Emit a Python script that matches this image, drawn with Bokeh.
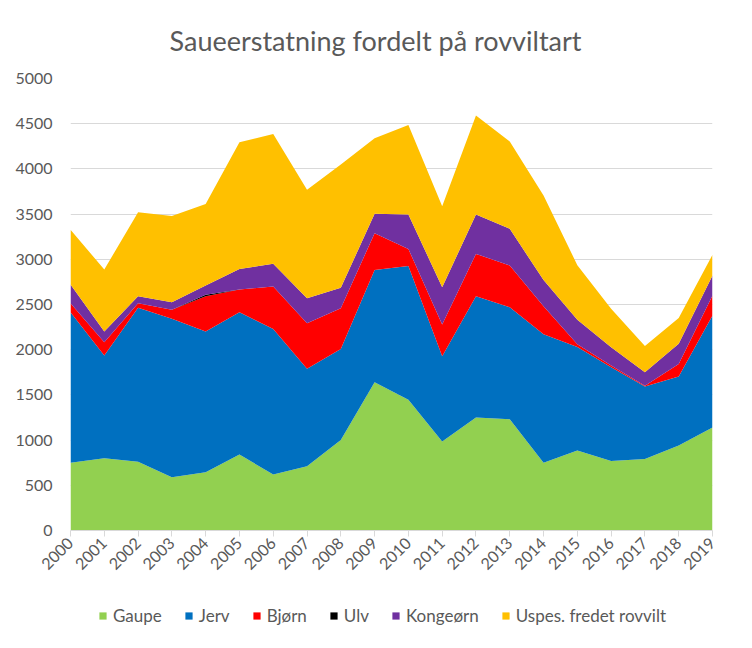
from math import pi
from bokeh.plotting import figure
from bokeh.layouts import column
from bokeh.models import ColumnDataSource, Legend, LegendItem, FixedTicker, Range1d
from bokeh.embed import file_html
from bokeh.resources import INLINE

years = list(range(2000, 2020))
gaupe = [750, 800, 760, 590, 645, 840, 620, 710, 1000, 1640, 1445, 985, 1250, 1230, 750, 885, 770, 790, 940, 1140]
jerv = [1665, 1136, 1703, 1751, 1556, 1575, 1610, 1078, 1009, 1243, 1482, 943, 1342, 1240, 1420, 1145, 1036, 803, 763, 1238]
bjorn = [99, 147, 51, 100, 391, 250, 469, 505, 450, 406, 188, 350, 468, 461, 310, 30, 19, 7, 140, 221]
ulv = [0, 0, 0, 0, 15, 0, 0, 0, 0, 0, 0, 0, 0, 0, 0, 0, 0, 0, 0, 0]
kongeorn = [207, 118, 78, 84, 103, 229, 251, 277, 225, 214, 380, 413, 435, 406, 290, 270, 203, 151, 222, 221]
uspes = [605, 686, 929, 955, 903, 1401, 1437, 1200, 1366, 836, 992, 896, 1095, 965, 935, 605, 424, 289, 285, 230]

series_keys = ["gaupe", "jerv", "bjorn", "ulv", "kongeorn", "uspes"]
series_labels = ["Gaupe", "Jerv", "Bjørn", "Ulv", "Kongeørn", "Uspes. fredet rovvilt"]
colors = ["#92D050", "#0070C0", "#FF0000", "#000000", "#7030A0", "#FFC000"]
y_ticks = list(range(0, 5001, 500))

source = ColumnDataSource(dict(year=years, gaupe=gaupe, jerv=jerv, bjorn=bjorn,
                               ulv=ulv, kongeorn=kongeorn, uspes=uspes))

FONT = "Lato"
TXT = "#595959"

p = figure(frame_width=642, frame_height=452, output_backend="svg", toolbar_location=None,
           x_range=Range1d(2000, 2019), y_range=Range1d(0, 5000),
           min_border_left=70, min_border_right=40, min_border_top=78, min_border_bottom=70)

rs = p.varea_stack(series_keys, x="year", color=colors, source=source)

p.title.text = "Saueerstatning fordelt på rovviltart"
p.title.align = "left"
p.title.offset = 99
p.title.text_font = FONT
p.title.text_font_size = "27px"
p.title.text_font_style = "normal"
p.title.text_color = TXT
p.title.standoff = 43

p.outline_line_color = None
p.background_fill_color = "white"
p.border_fill_color = "white"

p.xgrid.grid_line_color = None
p.ygrid.grid_line_color = "#D9D9D9"
p.ygrid.ticker = FixedTicker(ticks=y_ticks)

p.yaxis.ticker = FixedTicker(ticks=y_ticks)
p.yaxis.axis_line_color = None
p.yaxis.major_tick_line_color = None
p.yaxis.minor_tick_line_color = None
p.yaxis.major_label_text_font = FONT
p.yaxis.major_label_text_font_size = "16px"
p.yaxis.major_label_text_color = TXT
p.yaxis.major_label_standoff = 12

p.xaxis.ticker = FixedTicker(ticks=years)
p.xaxis.axis_line_color = "#D9D9D9"
p.xaxis.major_tick_line_color = "#D9D9D9"
p.xaxis.major_tick_in = 0
p.xaxis.major_tick_out = 6
p.xaxis.minor_tick_line_color = None
p.xaxis.major_label_orientation = pi / 4
p.xaxis.major_label_text_font = FONT
p.xaxis.major_label_text_font_size = "16px"
p.xaxis.major_label_text_color = TXT
p.xaxis.major_label_standoff = 4

# legend strip below the chart (its frame is aligned with the chart frame)
lg = figure(width=752, height=48, output_backend="svg", toolbar_location=None, title=None,
            x_axis_type=None, y_axis_type=None, x_range=Range1d(2000, 2019), y_range=Range1d(0, 1),
            min_border_left=0, min_border_right=0, min_border_top=0, min_border_bottom=0)
lg.outline_line_color = None
lg.xgrid.grid_line_color = None
lg.ygrid.grid_line_color = None
lrs = lg.varea_stack(series_keys, x="year", color=colors, source=source)
for r in lrs:
    r.visible = False

legend = Legend(items=[LegendItem(label=l, renderers=[r]) for l, r in zip(series_labels, lrs)],
                orientation="horizontal", location=(28, 22),
                label_text_font=FONT, label_text_font_size="17px", label_text_color=TXT,
                glyph_width=9, glyph_height=9, spacing=22, label_standoff=6,
                border_line_color=None, background_fill_alpha=0, margin=0, padding=0,
                inactive_fill_alpha=0)
lg.add_layout(legend, "center")

layout = column(p, lg, spacing=0)
open("out.html", "w").write(file_html(layout, INLINE))
